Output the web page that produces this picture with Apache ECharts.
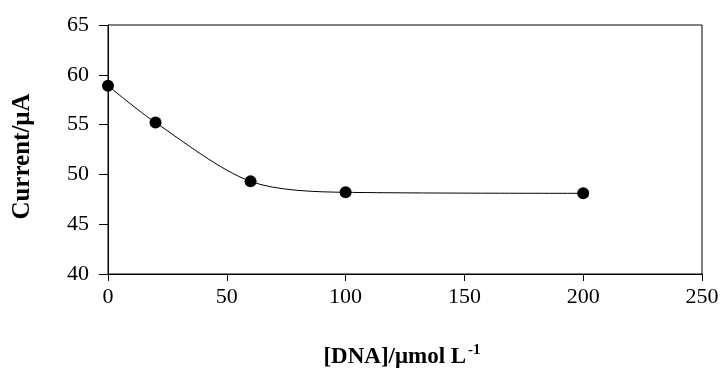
<!DOCTYPE html>
<html>
<head>
<meta charset="utf-8">
<script src="https://cdn.jsdelivr.net/npm/echarts@6/dist/echarts.min.js"></script>
<style>
  html, body { margin: 0; padding: 0; background: #fff; }
  #main { width: 723px; height: 381px; }
</style>
</head>
<body>
<div id="main"></div>
<script>
// DNA concentration (umol/L) and peak current (uA)
const dnaConc = [0, 20, 60, 100, 200];
const current = [58.9, 55.2, 49.3, 48.2, 48.1];

const serif = '"Liberation Serif", "Times New Roman", serif';

const chart = echarts.init(document.getElementById('main'));

const option = {
  animation: false,
  grid: {
    left: 108,
    right: 21,
    top: 25,
    bottom: 107,
    containLabel: false,
    outerBoundsMode: 'none',
    show: true,
    borderColor: '#000',
    borderWidth: 1
  },
  xAxis: {
    type: 'value',
    min: 0,
    max: 250,
    interval: 50,
    name: '{t|[DNA]/μmol L}{s|-1}',
    nameLocation: 'middle',
    nameGap: 69,
    nameTextStyle: {
      padding: [0, 6, 0, 0],
      rich: {
        t: { fontFamily: serif, fontWeight: 'bold', fontSize: 23, color: '#000' },
        s: { fontFamily: serif, fontWeight: 'bold', fontSize: 15, color: '#000', verticalAlign: 'top', padding: [0, 0, 14, 2] }
      }
    },
    axisLine: { show: true, lineStyle: { color: '#000', width: 1 } },
    axisTick: { show: true, inside: false, length: 7, lineStyle: { color: '#000' } },
    axisLabel: { fontFamily: serif, fontSize: 22, color: '#000', margin: 12 },
    splitLine: { show: false }
  },
  yAxis: {
    type: 'value',
    min: 40,
    max: 65,
    interval: 5,
    name: 'Current/μA',
    nameLocation: 'middle',
    nameGap: 73,
    nameTextStyle: { fontFamily: serif, fontWeight: 'bold', fontSize: 25, color: '#000', padding: [0, 14, 0, 0] },
    axisLine: { show: true, lineStyle: { color: '#000', width: 1 } },
    axisTick: { show: true, inside: false, length: 9, lineStyle: { color: '#000' } },
    axisLabel: { fontFamily: serif, fontSize: 22, color: '#000', margin: 19 },
    splitLine: { show: false }
  },
  series: [{
    type: 'line',
    data: dnaConc.map((x, i) => [x, current[i]]),
    smooth: 0.3,
    symbol: 'circle',
    symbolSize: 12,
    itemStyle: { color: '#000' },
    lineStyle: { color: '#000', width: 1 }
  }]
};

chart.setOption(option);
</script>
</body>
</html>
